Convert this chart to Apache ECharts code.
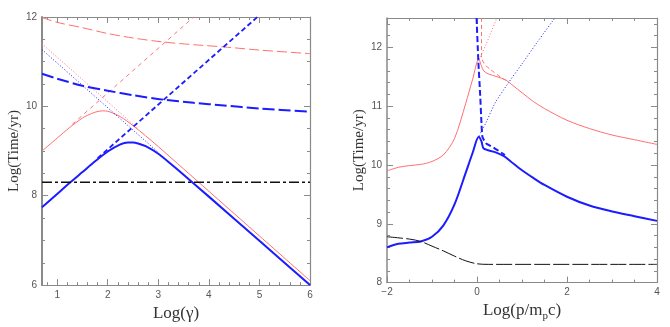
<!DOCTYPE html>
<html>
<head>
<meta charset="utf-8">
<script src="https://cdn.jsdelivr.net/npm/echarts@6/dist/echarts.min.js"></script>
<style>
  html, body { margin: 0; padding: 0; background: #fff; }
  #main { width: 670px; height: 327px; }
</style>
</head>
<body>
<div id="main"></div>
<script>
// ---- left panel: Log(gamma) ----
var gamMajor = [1, 2, 3, 4, 5, 6];
var gamMinor = [0.8, 1.2, 1.4, 1.6, 1.8, 2.2, 2.4, 2.6, 2.8, 3.2, 3.4, 3.6, 3.8, 4.2, 4.4, 4.6, 4.8, 5.2, 5.4, 5.6, 5.8];
var timeMajorL = [6, 8, 10, 12];
var timeMinorL = [6.5, 7, 7.5, 8.5, 9, 9.5, 10.5, 11, 11.5];

var gamBlueX = [0.7, 1, 1.25, 1.5, 1.75, 2, 2.25, 2.4, 2.5, 2.6, 2.75, 3, 3.25, 3.5, 4, 5, 6];
var gamBlueSolid = [7.74, 8.04, 8.29, 8.53, 8.77, 8.99, 9.15, 9.19, 9.19, 9.17, 9.11, 8.94, 8.71, 8.47, 7.98, 6.99, 6.0];
var gamRedX = [0.7, 1, 1.25, 1.5, 1.6, 1.75, 1.9, 2, 2.1, 2.25, 2.5, 2.75, 3, 3.5, 4, 5, 6];
var gamRedSolid = [9.0, 9.29, 9.53, 9.74, 9.80, 9.87, 9.90, 9.89, 9.85, 9.77, 9.57, 9.34, 9.10, 8.6, 8.1, 7.1, 6.1];
var gamBlueDotX = [0.7, 3.0];
var gamBlueDot = [11.27, 8.97];
var gamRedDotX = [0.7, 2.6];
var gamRedDot = [11.4, 9.5];
var gamBlueDashX = [1.8, 4.96];
var gamBlueDash = [8.84, 12.0];
var gamRedDashX = [1.3, 3.7];
var gamRedDash = [9.6, 12.0];
var gamLongX = [0.7, 1, 1.5, 2, 2.5, 3.1, 3.7, 4.3, 5, 6];
var gamBlueLong = [10.73, 10.62, 10.46, 10.35, 10.25, 10.15, 10.08, 10.02, 9.95, 9.88];
var gamRedLong = [11.99, 11.88, 11.76, 11.63, 11.53, 11.44, 11.38, 11.33, 11.26, 11.18];
var gamBlackX = [0.7, 6];
var gamBlack = [8.3, 8.3];

// ---- right panel: Log(p/m_p c) ----
var pMajor = [-2, 0, 2, 4];
var pMinor = [-1.5, -1, -0.5, 0.5, 1, 1.5, 2.5, 3, 3.5];
var timeMajorR = [8, 9, 10, 11, 12];
var timeMinorR = [8.2, 8.4, 8.6, 8.8, 9.2, 9.4, 9.6, 9.8, 10.2, 10.4, 10.6, 10.8, 11.2, 11.4, 11.6, 11.8, 12.2, 12.4];

var pRedX = [-2, -1.75, -1.5, -1.25, -1, -0.75, -0.5, -0.25, -0.1, 0.04, 0.1, 0.15, 0.25, 0.45, 0.65, 0.8, 1, 1.25, 1.5, 2, 2.5, 3, 3.5, 4];
var pRedSolid = [9.9, 9.96, 9.99, 10.01, 10.06, 10.17, 10.45, 11.05, 11.45, 11.8, 11.68, 11.6, 11.55, 11.5, 11.44, 11.35, 11.23, 11.08, 10.96, 10.76, 10.62, 10.51, 10.43, 10.35];
var pBlueX = [-2, -1.75, -1.5, -1.25, -1, -0.75, -0.5, -0.25, -0.1, 0.04, 0.1, 0.15, 0.4, 0.6, 0.75, 1, 1.25, 1.5, 2, 2.5, 3, 3.5, 4];
var pBlueSolid = [8.6, 8.66, 8.68, 8.7, 8.78, 8.97, 9.33, 9.87, 10.2, 10.48, 10.4, 10.28, 10.22, 10.15, 10.06, 9.91, 9.78, 9.66, 9.46, 9.31, 9.21, 9.13, 9.05];
var pBlackX = [-2, -1.5, -1.25, -1, -0.75, -0.5, -0.25, 0, 0.25, 4];
var pBlack = [8.78, 8.74, 8.7, 8.62, 8.54, 8.45, 8.37, 8.32, 8.31, 8.31];
var pBlueDashX = [-0.01, 0.03, 0.07, 0.1, 0.12, 0.2, 0.4, 0.62];
var pBlueDash = [12.5, 11.76, 11.2, 10.7, 10.48, 10.37, 10.28, 10.17];
var pRedDashX = [0.1, 0.1, 0.18, 0.29, 0.55, 0.65];
var pRedDash = [12.5, 11.82, 11.7, 11.63, 11.48, 11.44];
var pRedDotX = [0.05, 0.2, 0.44];
var pRedDot = [11.8, 12.05, 12.5];
var pBlueDotX = [0.05, 0.2, 0.4, 0.7, 1.0, 1.35, 1.73];
var pBlueDot = [10.5, 10.72, 11.05, 11.4, 11.72, 12.1, 12.5];

var BLUE = '#1c1cff', RED = '#ff6f6f', BLACK = '#111';
var FRAME = '#8a8a8a', LABEL = '#555';
var SERIF = '"Liberation Serif", "DejaVu Serif", serif';
var SANS = '"Liberation Sans", Arial, sans-serif';

function zip(xs, ys) {
    return xs.map(function (x, i) { return [x, ys[i]]; });
}

// main + minor-tick axis on each side, mirrored on the opposite side
function frame(grid, min, max, major, minor, sides, lineW, fmt, name, nameGap, nameStyle) {
    var out = [];
    sides.forEach(function (pos, s) {
        [major, minor].forEach(function (vals, k) {
            out.push({
                type: 'value', gridIndex: grid, position: pos, min: min, max: max,
                axisLine: { show: k === 0, onZero: false, lineStyle: { color: FRAME, width: s === 0 ? lineW : 1.2 } },
                axisTick: { show: true, inside: true, length: k === 0 ? 6 : 3, customValues: vals,
                    lineStyle: { color: FRAME, width: 1 } },
                axisLabel: { show: s === 0 && k === 0, customValues: major, formatter: fmt,
                    color: LABEL, fontSize: 10, fontFamily: SANS, margin: 5,
                    showMinLabel: true, showMaxLabel: true },
                splitLine: { show: false },
                name: (s === 0 && k === 0) ? name : '',
                nameLocation: 'middle', nameGap: nameGap, nameTextStyle: nameStyle
            });
        });
    });
    return out;
}

function line(panel, xs, ys, color, width, type, smooth) {
    return {
        type: 'line', xAxisIndex: panel * 4, yAxisIndex: panel * 4,
        data: zip(xs, ys), showSymbol: false, silent: true,
        smooth: smooth === undefined ? 0.3 : smooth,
        lineStyle: { color: color, width: width, type: type }
    };
}

var plain = function (v) { return String(v); };
var minus = function (v) { return String(v).replace('-', '\u2212'); };
var xName = { fontFamily: SERIF, fontSize: 17, color: '#333' };
var yName = { fontFamily: SERIF, fontSize: 15, color: '#333' };
var pName = {
    fontFamily: SERIF, fontSize: 17, color: '#333',
    rich: { s: { fontFamily: SERIF, fontSize: 11, color: '#333', verticalAlign: 'top', padding: [11, 0, 0, 0] } }
};

var chart = echarts.init(document.getElementById('main'));
chart.setOption({
    animation: false,
    backgroundColor: '#fff',
    grid: [
        { left: 42, top: 17, width: 268, height: 269 },
        { left: 387, top: 18, width: 270, height: 268 }
    ],
    xAxis: [].concat(
        frame(0, 0.7, 6, gamMajor, gamMinor, ['bottom', 'top'], 1.2, plain, 'Log(\u03b3)', 16, xName),
        frame(1, -2, 4, pMajor, pMinor, ['bottom', 'top'], 1.2, minus, 'Log(p/m{s|p}c)', 12, pName)
    ),
    yAxis: [].concat(
        frame(0, 6, 12, timeMajorL, timeMinorL, ['left', 'right'], 2, plain, 'Log(Time/yr)', 20, yName),
        frame(1, 8, 12.5, timeMajorR, timeMinorR, ['left', 'right'], 1.5, plain, 'Log(Time/yr)', 16, yName)
    ),
    series: [
        line(0, gamLongX, gamRedLong, RED, 1, [10, 4]),
        line(0, gamRedDotX, gamRedDot, RED, 1, [1, 2], false),
        line(0, gamRedDashX, gamRedDash, RED, 1, [4, 4], false),
        line(0, gamRedX, gamRedSolid, RED, 1, 'solid'),
        line(0, gamLongX, gamBlueLong, BLUE, 2, [12, 4]),
        line(0, gamBlueDotX, gamBlueDot, BLUE, 1, [1, 2], false),
        line(0, gamBlueDashX, gamBlueDash, BLUE, 1.8, [5, 3], false),
        line(0, gamBlueX, gamBlueSolid, BLUE, 2, 'solid'),
        line(0, gamBlackX, gamBlack, BLACK, 1.5, [10, 3, 3, 3], false),

        line(1, pRedDotX, pRedDot, RED, 1, [1, 2]),
        line(1, pRedDashX, pRedDash, RED, 1, [4, 3], 0.15),
        line(1, pRedX, pRedSolid, RED, 1, 'solid'),
        line(1, pBlueDotX, pBlueDot, BLUE, 1, [1, 2]),
        line(1, pBlueDashX, pBlueDash, BLUE, 2, [6, 3], 0.15),
        line(1, pBlueX, pBlueSolid, BLUE, 2, 'solid'),
        line(1, pBlackX, pBlack, BLACK, 1, [16, 3])
    ]
});
</script>
</body>
</html>
